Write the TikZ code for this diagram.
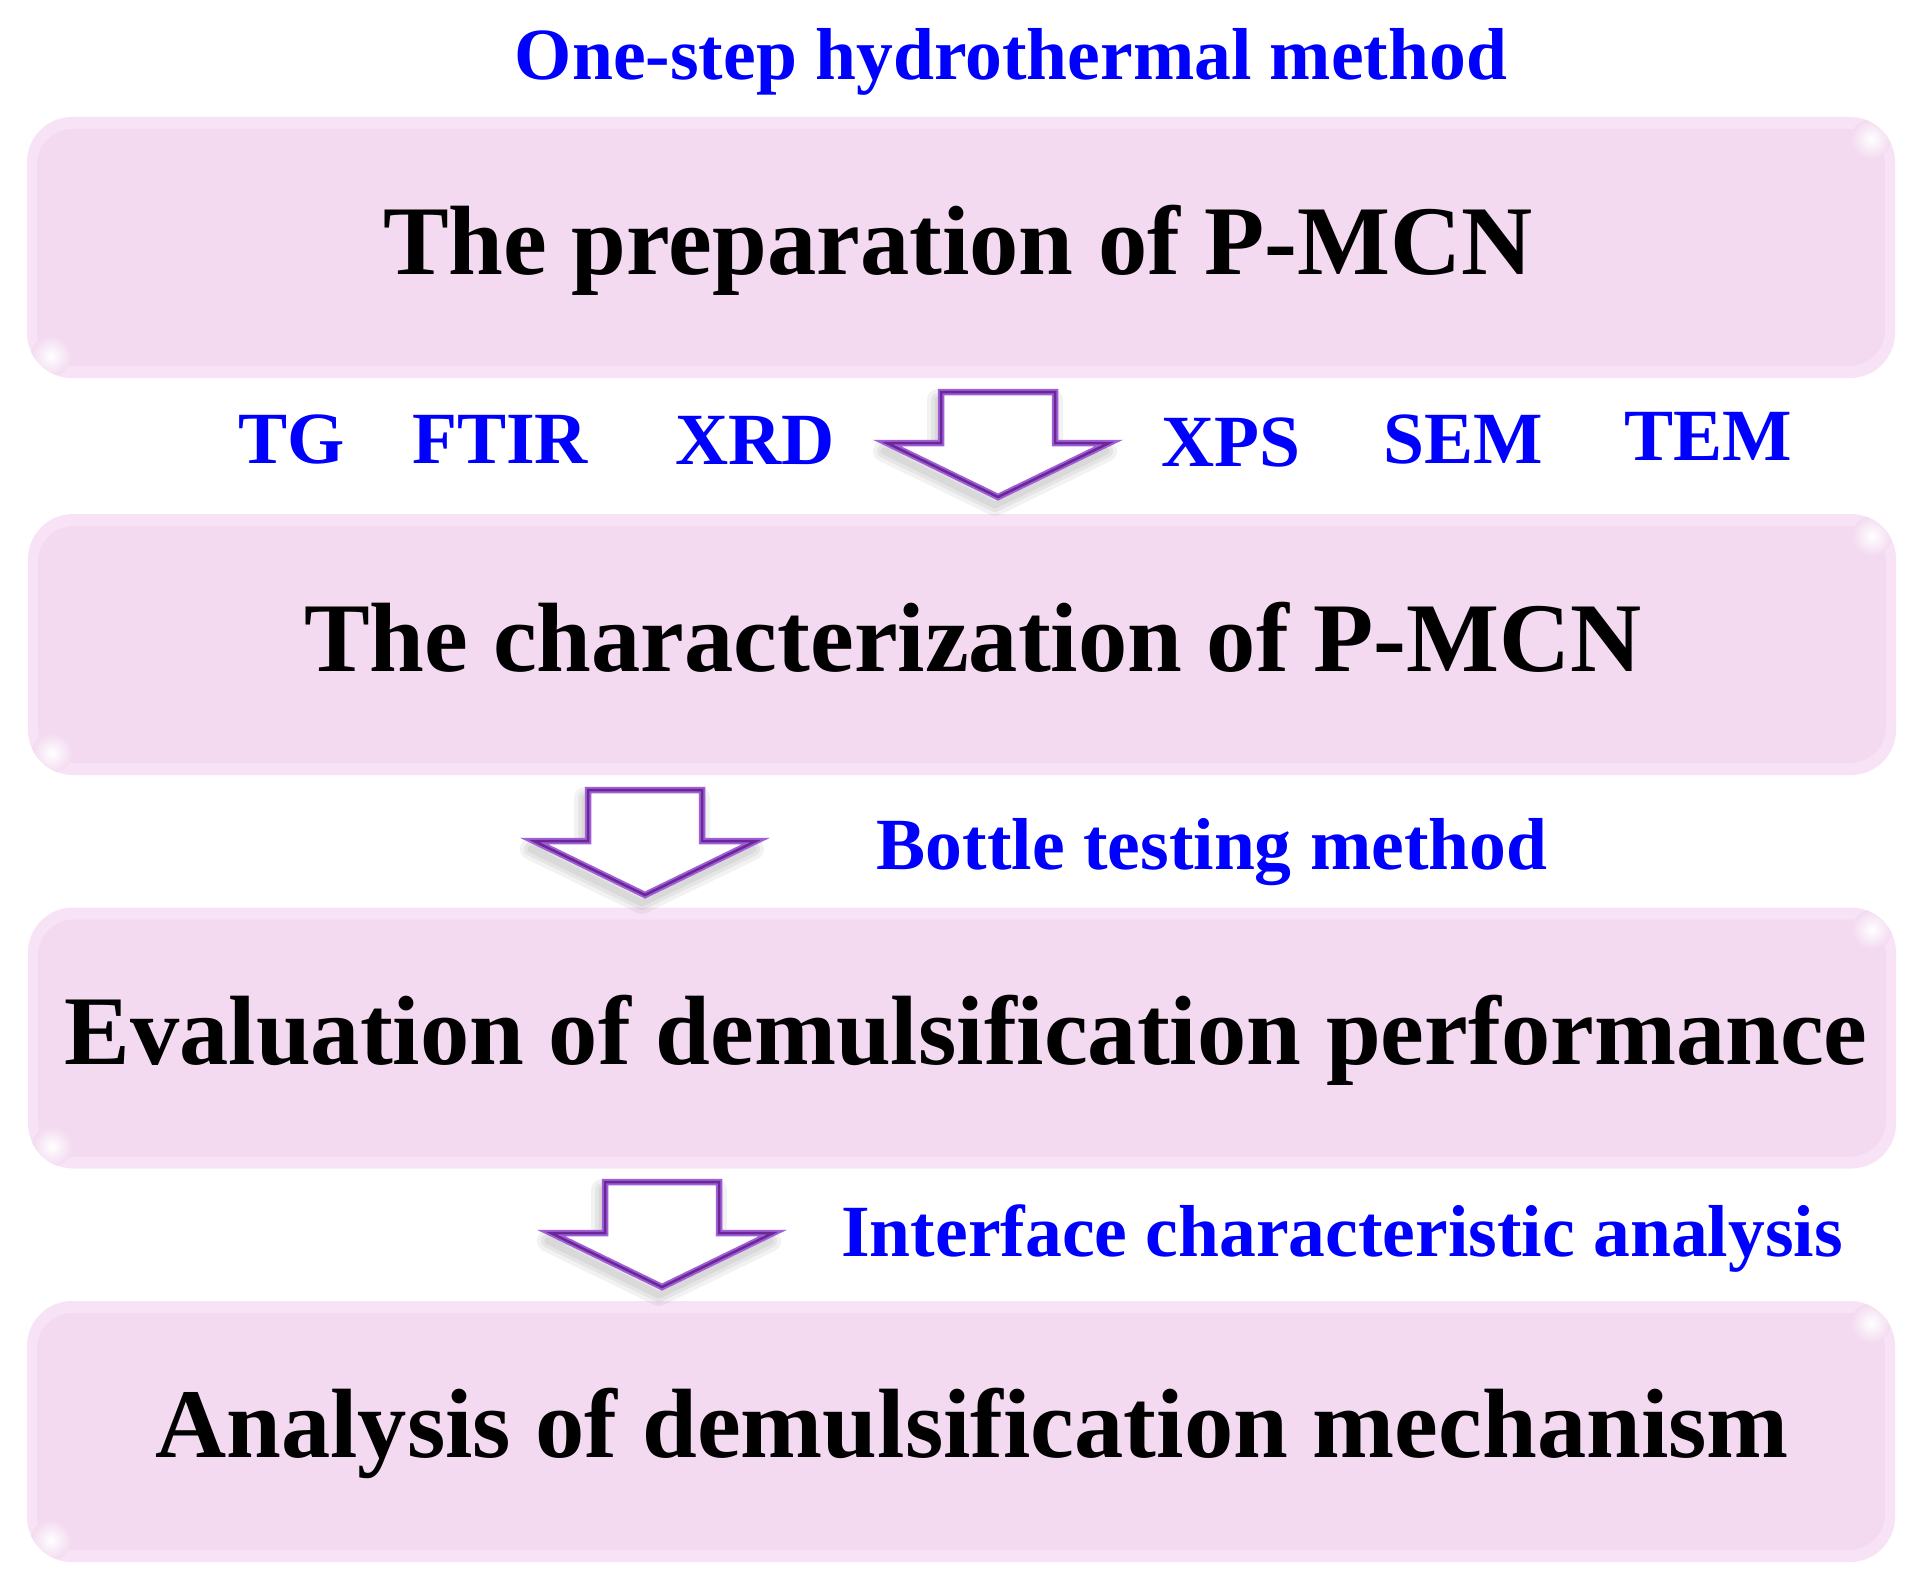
\documentclass[tikz,border=0pt]{standalone}
\usepackage{fontspec}
\setmainfont{Liberation Serif}
\definecolor{boxpink}{RGB}{243,218,240}
\definecolor{boxedge}{RGB}{248,227,246}
\definecolor{arrowlight}{RGB}{160,95,215}
\definecolor{arrowdark}{RGB}{105,40,150}
\definecolor{labelblue}{RGB}{0,0,255}
\tikzset{
  stage/.style={rounded corners=45pt, fill=boxedge, minimum width=1868pt,
    minimum height=261pt, inner sep=0pt,
    path picture={
      \fill[boxpink, rounded corners=36pt]
        ([shift={(10pt,-12pt)}]path picture bounding box.north west) rectangle
        ([shift={(-10pt,12pt)}]path picture bounding box.south east);
      \shade[inner color=white, outer color=boxpink]
        ([shift={(-24pt,-22pt)}]path picture bounding box.north east) circle (20pt);
      \shade[inner color=white, outer color=boxpink]
        ([shift={(24pt,22pt)}]path picture bounding box.south west) circle (20pt);
    }},
  stagetext/.style={anchor=base, inner sep=0pt, text=black,
    font=\fontsize{98.5}{110}\selectfont\bfseries},
  bluelabel/.style={anchor=base, inner sep=0pt, text=labelblue,
    font=\fontsize{73.6}{84}\selectfont\bfseries},
  pics/downarrow/.style={code={
    \foreach \w in {22,14,7}{
      \draw[black, opacity=0.05, line width=\w pt, line join=round, shift={(-3pt,-8pt)}]
        (-57,0) -- (57,0) -- (57,51) -- (111,51) -- (0,105) -- (-111,51) -- (-57,51) -- cycle;
    }
    \fill[white] (-57,0) -- (57,0) -- (57,51) -- (111,51) -- (0,105) -- (-111,51) -- (-57,51) -- cycle;
    \draw[arrowlight, line width=6.5pt, line join=miter]
      (-57,0) -- (57,0) -- (57,51) -- (111,51) -- (0,105) -- (-111,51) -- (-57,51) -- cycle;
    \draw[arrowdark, line width=2.5pt, line join=miter]
      (-57,0) -- (57,0) -- (57,51) -- (111,51) -- (0,105) -- (-111,51) -- (-57,51) -- cycle;
  }}
}
\begin{document}
\begin{tikzpicture}[x=1pt, y=-1pt]
\useasboundingbox[fill=white] (0,0) rectangle (1921,1592);

% stage boxes
\node[stage] (b1) at (961,247.5) {};
\node[stage] (b2) at (962,644.5) {};
\node[stage] (b3) at (962,1038) {};
\node[stage] (b4) at (961,1431.5) {};

\node[stagetext] (t1) at (958,274) {The preparation of P-MCN};
\node[stagetext] (t2) at (973,671) {The characterization of P-MCN};
\node[stagetext] (t3) at (966,1064) {Evaluation of demulsification performance};
\node[stagetext] (t4) at (972,1457) {Analysis of demulsification mechanism};

% block arrows
\pic (a1) at (998,392) {downarrow};
\pic (a2) at (645,790) {downarrow};
\pic (a3) at (662,1182) {downarrow};

% blue labels
\node[bluelabel] (l0) at (1011,80) {One-step hydrothermal method};
\node[bluelabel] (l1) at (292,463) {TG};
\node[bluelabel] (l2) at (500,463) {FTIR};
\node[bluelabel] (l3) at (755,464) {XRD};
\node[bluelabel] (l4) at (1231,466) {XPS};
\node[bluelabel] (l5) at (1463,463) {SEM};
\node[bluelabel] (l6) at (1708,460) {TEM};
\node[bluelabel] (l7) at (1212,869) {Bottle testing method};
\node[bluelabel] (l8) at (1342,1256) {Interface characteristic analysis};
\end{tikzpicture}
\end{document}
